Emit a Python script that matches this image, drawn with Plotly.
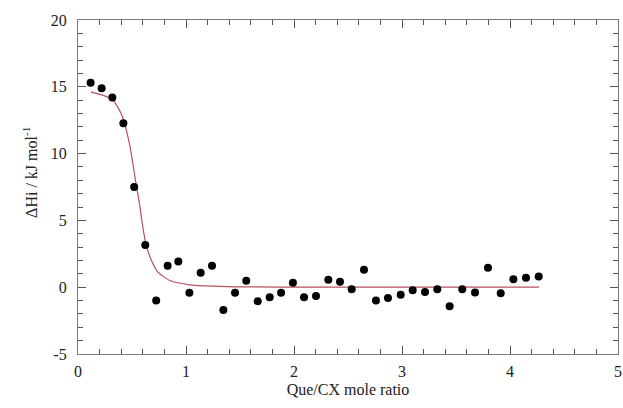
import plotly.graph_objects as go

# Measured data points (Que/CX mole ratio, ΔHi kJ/mol)
ratio = [0.117, 0.219, 0.318, 0.42, 0.52, 0.623, 0.724, 0.83, 0.929, 1.031,
         1.136, 1.241, 1.346, 1.454, 1.558, 1.664, 1.775, 1.88, 1.99, 2.093,
         2.204, 2.318, 2.426, 2.534, 2.648, 2.759, 2.87, 2.988, 3.099, 3.213,
         3.327, 3.441, 3.558, 3.676, 3.796, 3.914, 4.031, 4.148, 4.266]
dh = [15.31, 14.9, 14.19, 12.27, 7.5, 3.15, -1.0, 1.6, 1.93, -0.42,
      1.08, 1.6, -1.7, -0.42, 0.48, -1.05, -0.75, -0.42, 0.33, -0.75,
      -0.65, 0.55, 0.4, -0.15, 1.3, -1.0, -0.8, -0.57, -0.22, -0.35,
      -0.15, -1.42, -0.15, -0.4, 1.45, -0.45, 0.6, 0.7, 0.8]

# Fit curve
fit_x = [0.12, 0.22, 0.32, 0.41, 0.48, 0.53, 0.57, 0.60, 0.63, 0.68, 0.74,
         0.85, 1.04, 1.38, 2.0, 3.0, 4.27]
fit_y = [14.6, 14.4, 14.05, 12.8, 10.6, 8.1, 6.2, 4.5, 3.2, 2.0, 1.13,
         0.5, 0.18, 0.05, 0.01, 0.0, 0.0]

x_ticks = [0, 1, 2, 3, 4, 5]
x_ticklabels = ["0", "1", "2", "3", "4", "5"]
y_ticks = [-5, 0, 5, 10, 15, 20]
y_ticklabels = ["-5", "0", "5", "10", "15", "20"]

fig = go.Figure()
fig.add_trace(go.Scatter(x=fit_x, y=fit_y, mode="lines",
                         line=dict(color="#b5525f", width=1.2, shape="spline", smoothing=0.6),
                         hoverinfo="skip", showlegend=False))
fig.add_trace(go.Scatter(x=ratio, y=dh, mode="markers",
                         marker=dict(color="black", size=8),
                         showlegend=False))

font = dict(family="Times New Roman, Liberation Serif, serif", size=16, color="#222")
axis_common = dict(showline=True, linecolor="#7a7a7a", linewidth=1.2, mirror="ticks",
                   ticks="inside", ticklen=8, tickcolor="#555", tickwidth=1,
                   showgrid=False, zeroline=False, tickfont=font, automargin=False)

fig.update_layout(
    template="none",
    width=623, height=408,
    margin=dict(l=78, r=5, t=20, b=54),
    paper_bgcolor="white", plot_bgcolor="white",
    font=font,
    xaxis=dict(range=[0, 5], tickvals=x_ticks, ticktext=x_ticklabels,
               minor=dict(dtick=0.2, tick0=0, ticks="inside", ticklen=5, tickcolor="#555"),
               title=dict(text="Que/CX mole ratio", font=font, standoff=4),
               ticklabelstandoff=3,
               **axis_common),
    yaxis=dict(range=[-5, 20], tickvals=y_ticks, ticktext=y_ticklabels,
               minor=dict(dtick=1, tick0=0, ticks="inside", ticklen=5, tickcolor="#555"),
               ticklabelstandoff=7,
               **axis_common),
    annotations=[dict(text="ΔHi / kJ mol<sup>-1</sup>", textangle=-90,
                      xref="paper", yref="paper", x=-0.089, y=0.545,
                      xanchor="center", yanchor="middle", showarrow=False, font=font)],
)

fig.write_html("out.html")
